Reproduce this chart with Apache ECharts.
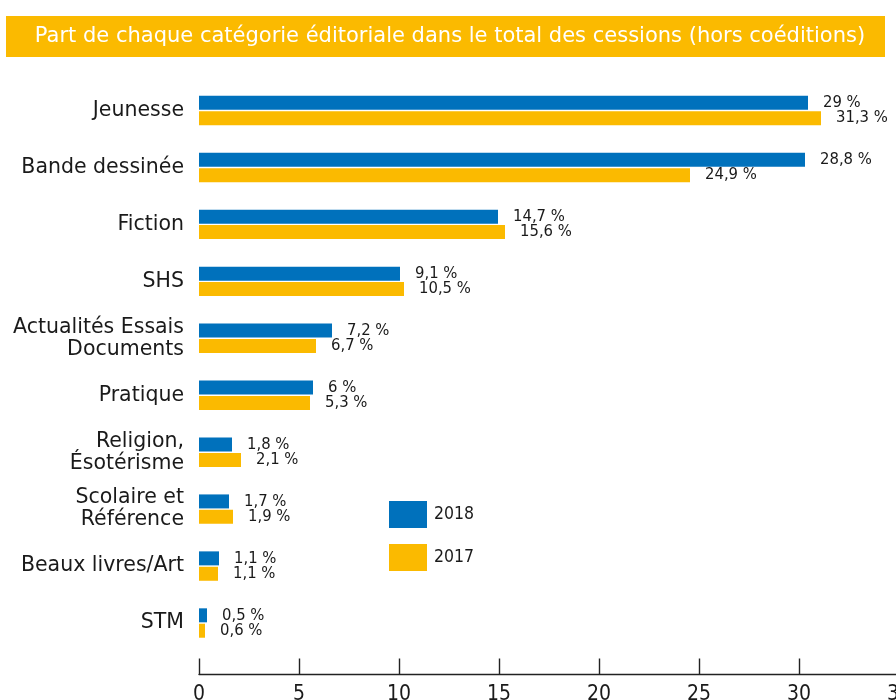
<!DOCTYPE html>
<html>
<head>
<meta charset="utf-8">
<script src="https://cdn.jsdelivr.net/npm/echarts@6/dist/echarts.min.js"></script>
<style>
    html, body { margin: 0; padding: 0; background: #fff; }
    #chart { width: 896px; height: 700px; }
</style>
</head>
<body>
<div id="chart"></div>
<script>
// categories, top to bottom
const categories = [
    'Jeunesse',
    'Bande dessinée',
    'Fiction',
    'SHS',
    'Actualités Essais\nDocuments',
    'Pratique',
    'Religion,\nÉsotérisme',
    'Scolaire et\nRéférence',
    'Beaux livres/Art',
    'STM'
]

// bar lengths as drawn in the picture
const values2018 = [30.45, 30.3, 14.95, 10.05, 6.65, 5.7, 1.65, 1.5, 1.0, 0.4]
const values2017 = [31.1, 24.55, 15.3, 10.25, 5.85, 5.55, 2.1, 1.7, 0.95, 0.3]

// labels printed next to the bars
const labels2018 = ['29 %', '28,8 %', '14,7 %', '9,1 %', '7,2 %', '6 %', '1,8 %', '1,7 %', '1,1 %', '0,5 %']
const labels2017 = ['31,3 %', '24,9 %', '15,6 %', '10,5 %', '6,7 %', '5,3 %', '2,1 %', '1,9 %', '1,1 %', '0,6 %']

const xTicks = [0, 5, 10, 15, 20, 25, 30, 35]

const BLUE = '#0071bc'
const YELLOW = '#fbba00'
const TITLE = 'Part de chaque catégorie éditoriale dans le total des cessions (hors coéditions)'

const chart = echarts.init(document.getElementById('chart'))

function barLabel(texts) {
    return {
        show: true,
        position: 'right',
        distance: 15,
        fontFamily: 'DejaVu Sans Condensed',
        fontSize: 16.5,
        color: '#1a1a1a',
        formatter: (p) => texts[p.dataIndex]
    }
}

chart.setOption({
    animation: false,
    backgroundColor: '#fff',
    graphic: [{
        type: 'rect',
        left: 6,
        top: 16,
        shape: { width: 879, height: 41 },
        style: { fill: YELLOW }
    }, {
        type: 'text',
        x: 450,
        y: 37,
        style: {
            text: TITLE,
            fill: '#fff',
            fontFamily: 'DejaVu Sans',
            fontSize: 21,
            align: 'center',
            verticalAlign: 'middle'
        }
    }],
    legend: {
        orient: 'vertical',
        left: 389,
        top: 501,
        padding: 0,
        itemWidth: 38,
        itemHeight: 27,
        itemGap: 16,
        icon: 'rect',
        textStyle: {
            fontFamily: 'DejaVu Sans Condensed',
            fontSize: 17.5,
            color: '#1a1a1a',
            padding: [0, 0, 0, 2]
        },
        data: ['2018', '2017']
    },
    grid: {
        left: 199,
        top: 82,
        height: 569.5,
        width: 700,
        containLabel: false,
        outerBoundsMode: 'none'
    },
    xAxis: {
        type: 'value',
        min: xTicks[0],
        max: xTicks[xTicks.length - 1],
        interval: xTicks[1] - xTicks[0],
        offset: 23,
        splitLine: { show: false },
        axisLine: { show: true, lineStyle: { color: '#222', width: 1.4 } },
        axisTick: { show: true, inside: true, length: 16, lineStyle: { color: '#222', width: 1.4 } },
        axisLabel: {
            margin: 10,
            fontFamily: 'DejaVu Sans Condensed',
            fontSize: 21,
            color: '#1a1a1a'
        }
    },
    yAxis: {
        type: 'category',
        inverse: true,
        data: categories,
        axisLine: { show: false },
        axisTick: { show: false },
        axisLabel: {
            margin: 15,
            fontFamily: 'DejaVu Sans',
            fontSize: 20.5,
            lineHeight: 22,
            color: '#1a1a1a'
        }
    },
    series: [{
        name: '2018',
        type: 'bar',
        barWidth: 14,
        barGap: '10%',
        itemStyle: { color: BLUE },
        label: barLabel(labels2018),
        data: values2018
    }, {
        name: '2017',
        type: 'bar',
        barWidth: 14,
        itemStyle: { color: YELLOW },
        label: barLabel(labels2017),
        data: values2017
    }]
})
</script>
</body>
</html>
